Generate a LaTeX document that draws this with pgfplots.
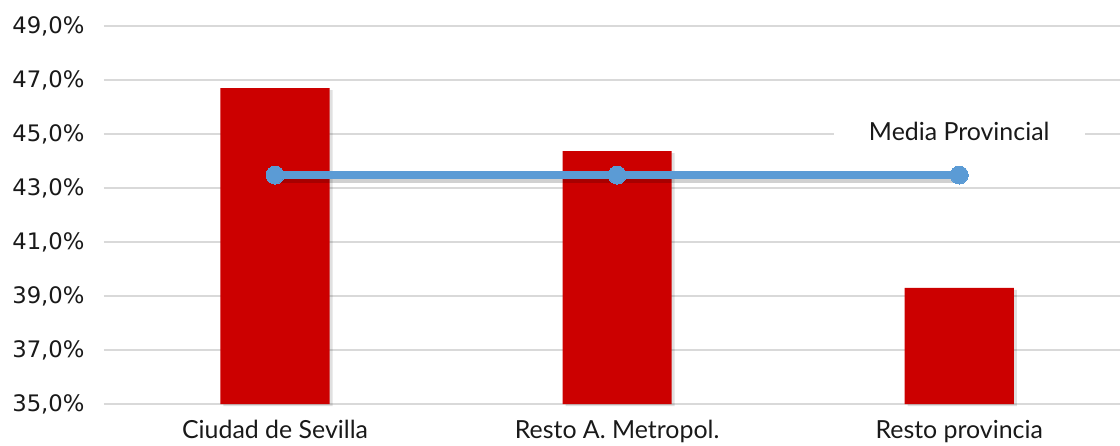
\documentclass[border=0pt]{standalone}
\usepackage{pgfplots}
\pgfplotsset{compat=1.18}
\usepackage{fontspec}
\setmainfont{Lato}
\newfontfamily\tickfont{DejaVu Sans}
\definecolor{barred}{HTML}{CC0000}
\definecolor{lineblue}{HTML}{5B9BD5}
\definecolor{gridgray}{HTML}{D9D9D9}
\begin{document}
\begin{tikzpicture}
\begin{axis}[
  at={(0,0)}, anchor=south west,
  scale only axis,
  width=1016bp, height=378bp,
  xmin=-0.5, xmax=2.47,
  ymin=35, ymax=49,
  axis line style={draw=none},
  major tick length=0pt,
  ytick={35,37,39,41,43,45,47,49},
  yticklabels={{35,0\%},{37,0\%},{39,0\%},{41,0\%},{43,0\%},{45,0\%},{47,0\%},{49,0\%}},
  yticklabel style={font=\tickfont\fontsize{22.8}{26}\selectfont, text=black!90, xshift=-16bp},
  xtick={0,1,2},
  xticklabels={Ciudad de Sevilla, Resto A. Metropol., Resto provincia},
  xticklabel style={font=\fontsize{25}{28}\selectfont, text=black!90, yshift=-13bp},
  ymajorgrids,
  grid style={draw=gridgray, line width=1.8bp},
  clip=false,
]
% bar shadows
\addplot[ybar, bar width=0.319, bar shift=0pt, draw=none, fill=black, fill opacity=0.12,
  xshift=3bp, yshift=-2bp] coordinates {(0,46.70) (1,44.37) (2,39.30)};
% bars
\addplot[ybar, bar width=0.319, bar shift=0pt, draw=none, fill=barred] coordinates {(0,46.70) (1,44.37) (2,39.30)};
% line shadow
\addplot[draw=black, draw opacity=0.18, line width=7.5bp, yshift=-4bp, mark=none] coordinates {(0,43.48) (1,43.48) (2,43.48)};
% line
\addplot[draw=lineblue, line width=7.5bp, mark=*, mark size=9bp, mark options={fill=lineblue, draw=lineblue, line width=0pt}] coordinates {(0,43.48) (1,43.48) (2,43.48)};
\node[fill=white, minimum width=251bp, minimum height=30bp, inner sep=0pt, font=\fontsize{25}{28}\selectfont, text=black!90] at (axis cs:2,45.1) {Media Provincial};
\end{axis}
\pgfresetboundingbox
\path[use as bounding box] (-104bp,-42bp) rectangle (1016bp,404bp);
\end{tikzpicture}
\end{document}
